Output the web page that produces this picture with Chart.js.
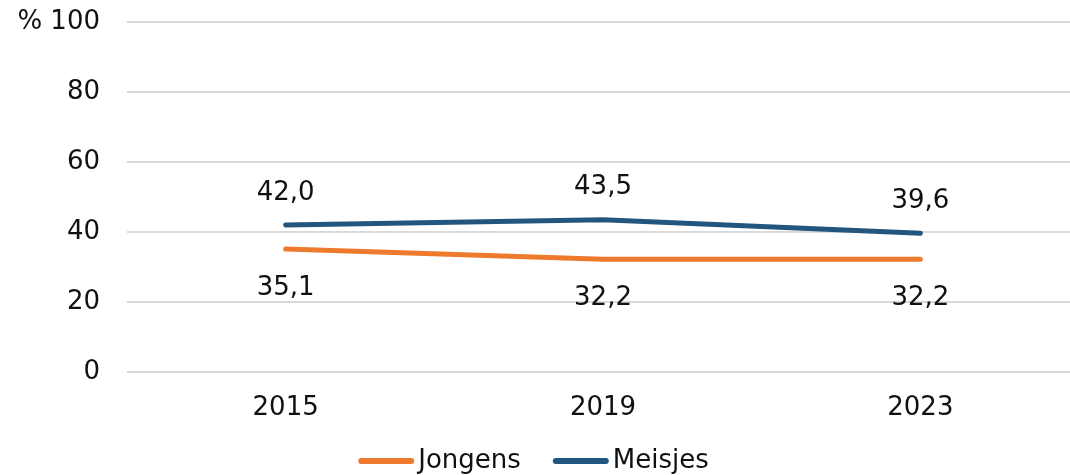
<!DOCTYPE html>
<html>
<head>
<meta charset="utf-8">
<script src="https://cdn.jsdelivr.net/npm/chart.js@4.4.1/dist/chart.umd.min.js"></script>
<style>
  html, body { margin: 0; padding: 0; background: #fff; overflow: hidden; }
  #wrap { width: 1085px; height: 475px; }
</style>
</head>
<body>
<div id="wrap"><canvas id="myChart"></canvas></div>
<script>
// data
let years = ['2015', '2019', '2023'];
let jongens = [35.1, 32.2, 32.2];
let meisjes = [42.0, 43.5, 39.6];
let yTicks = [0, 20, 40, 60, 80, 100];

let fontFamily = '"DejaVu Sans", Verdana, sans-serif';
let textColor = '#111';

// numbers like 42,0
function fmt(v) {
    return v.toFixed(1).replace('.', ',');
}

// value labels above / below each point
let valueLabels = {
    id: 'valueLabels',
    afterDatasetsDraw(chart) {
        let ctx = chart.ctx;
        ctx.save();
        ctx.font = '26px ' + fontFamily;
        ctx.fillStyle = textColor;
        ctx.textAlign = 'center';
        ctx.textBaseline = 'middle';
        chart.data.datasets.forEach((ds, i) => {
            let meta = chart.getDatasetMeta(i);
            meta.data.forEach((pt, j) => {
                let dy = ds.labelPos === 'above' ? -32 : 39;
                ctx.fillText(fmt(ds.data[j]), pt.x, pt.y + dy);
            });
        });
        ctx.restore();
    }
};

// legend drawn by hand: line sample + name
let lineLegend = {
    id: 'lineLegend',
    afterDraw(chart) {
        let ctx = chart.ctx;
        ctx.save();
        ctx.font = '26px ' + fontFamily;
        ctx.textBaseline = 'middle';
        let lineLen = 50, gap = 7, between = 29;
        let items = chart.data.datasets.map(ds => ({
            ds: ds,
            w: 3 + lineLen + 3 + gap + ctx.measureText(ds.label).width
        }));
        let total = items.reduce((s, it) => s + it.w, 0) + between * (items.length - 1);
        let x = document.documentElement.clientWidth / 2 - total / 2;
        let y = 461;
        items.forEach(it => {
            ctx.strokeStyle = it.ds.borderColor;
            ctx.lineWidth = 6;
            ctx.lineCap = 'round';
            ctx.beginPath();
            ctx.moveTo(x + 3, y);
            ctx.lineTo(x + 3 + lineLen, y);
            ctx.stroke();
            ctx.fillStyle = textColor;
            ctx.fillText(it.ds.label, x + 6 + lineLen + gap - 3, y);
            x += it.w + between;
        });
        ctx.restore();
    }
};

let myChart = document.getElementById('myChart').getContext('2d');

let lineChart = new Chart(myChart, {
    type: 'line',
    data: {
        labels: years,
        datasets: [{
            label: 'Jongens',
            data: jongens,
            borderColor: '#EE7A2E',
            backgroundColor: '#EE7A2E',
            borderWidth: 5,
            borderCapStyle: 'round',
            pointRadius: 0,
            labelPos: 'below'
        }, {
            label: 'Meisjes',
            data: meisjes,
            borderColor: '#22567F',
            backgroundColor: '#22567F',
            borderWidth: 5,
            borderCapStyle: 'round',
            pointRadius: 0,
            labelPos: 'above'
        }]
    },
    options: {
        responsive: true,
        maintainAspectRatio: false,
        animation: false,
        layout: { padding: { top: 22, bottom: 38, left: 0, right: 6 } },
        plugins: {
            legend: { display: false },
            tooltip: { enabled: false }
        },
        scales: {
            x: {
                offset: true,
                grid: { display: false },
                border: { display: false },
                ticks: {
                    color: textColor,
                    padding: 13,
                    font: { family: fontFamily, size: 26 }
                }
            },
            y: {
                min: 0,
                max: 100,
                afterFit(scale) {
                    scale.width = 127;
                    scale.paddingTop = 0;
                    scale.paddingBottom = 0;
                },
                afterBuildTicks(scale) {
                    scale.ticks = yTicks.map(v => ({ value: v }));
                },
                grid: { color: '#d9d9d9', lineWidth: 2, drawTicks: false },
                border: { display: false },
                ticks: {
                    color: textColor,
                    padding: 27,
                    font: { family: fontFamily, size: 26 },
                    callback: v => v === 100 ? '% 100' : String(v)
                }
            }
        }
    },
    plugins: [valueLabels, lineLegend]
});
</script>
</body>
</html>
